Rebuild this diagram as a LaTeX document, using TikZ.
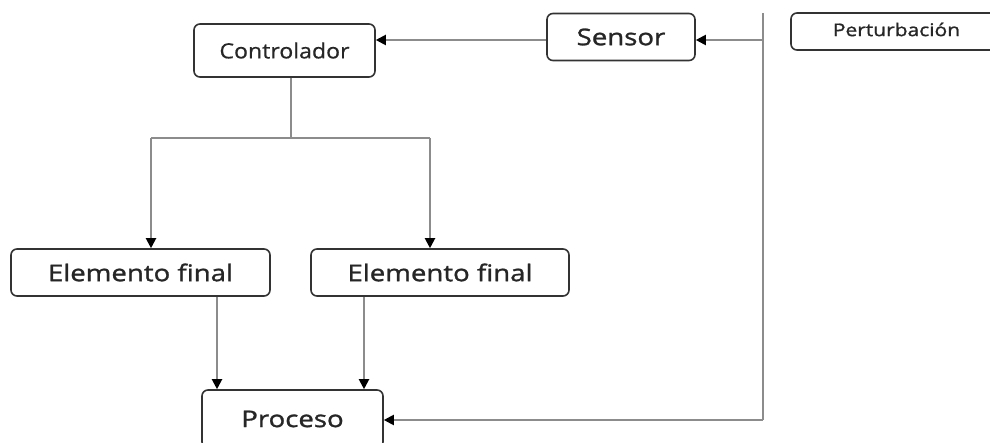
\documentclass[tikz,border=0pt]{standalone}
\usepackage{fontspec}
\setmainfont{Open Sans}
\newfontfamily\fctrl[FakeStretch=1.1,FakeBold=0.6]{Open Sans}
\newfontfamily\fsemi[FakeStretch=1.2,FakeBold=1.2]{Open Sans}
\usetikzlibrary{arrows.meta}
\tikzset{
  blk/.style={draw=black!80, line width=1.6pt, rounded corners=6pt, inner sep=0pt, fill=white, text=black!85},
  conn/.style={draw=black!45, line width=2pt},
  arr/.style={conn, -{Triangle[length=10pt,width=10pt,color=black]}},
}
\begin{document}
\begin{tikzpicture}[x=1pt,y=-1pt]
\useasboundingbox (0,0) rectangle (990,443);
\clip (0,0) rectangle (990,443);
\fill[white] (0,0) rectangle (990,443);
\node[blk, minimum width=181pt, minimum height=53pt, font=\fctrl\fontsize{21}{24}\selectfont] (ctrl) at (284.5,50.5) {Controlador};
\node[blk, minimum width=148pt, minimum height=47pt, font=\fsemi\fontsize{23}{26}\selectfont] (sens) at (621,37) {Sensor};
\node[blk, minimum width=211pt, minimum height=37pt, font=\fsemi\fontsize{17.5}{20}\selectfont] (pert) at (896.5,31.5) {Perturbación\vphantom{p}};
\node[blk, minimum width=259pt, minimum height=47pt, font=\fsemi\fontsize{23}{26}\selectfont] (ef1) at (140.5,272.5) {Elemento final};
\node[blk, minimum width=258pt, minimum height=47pt, font=\fsemi\fontsize{23}{26}\selectfont] (ef2) at (440,272.5) {Elemento final};
\node[blk, minimum width=181pt, minimum height=58pt, font=\fsemi\fontsize{23}{26}\selectfont] (proc) at (292.5,419) {Proceso\hspace{26pt}};
\coordinate (vtop) at (763,13);
\coordinate (vbot) at (763,420);
\coordinate (s) at (763,40);
\coordinate (j) at (291,138);
\coordinate (bl) at (151,138);
\coordinate (br) at (430,138);
\coordinate (d1) at (217,0);
\coordinate (d2) at (364,0);
\draw[conn] (vtop) -- (vbot);
\draw[arr] (s) -- (s -| sens.east);
\draw[arr] (s -| sens.west) -- (s -| ctrl.east);
\draw[conn] (ctrl.south -| j) -- (j);
\draw[conn] (bl) -- (br);
\draw[arr] (bl) -- (bl |- ef1.north);
\draw[arr] (br) -- (br |- ef2.north);
\draw[arr] (d1 |- ef1.south) -- (d1 |- proc.north);
\draw[arr] (d2 |- ef2.south) -- (d2 |- proc.north);
\draw[arr] (vbot) -- (vbot -| proc.east);
\end{tikzpicture}
\end{document}
